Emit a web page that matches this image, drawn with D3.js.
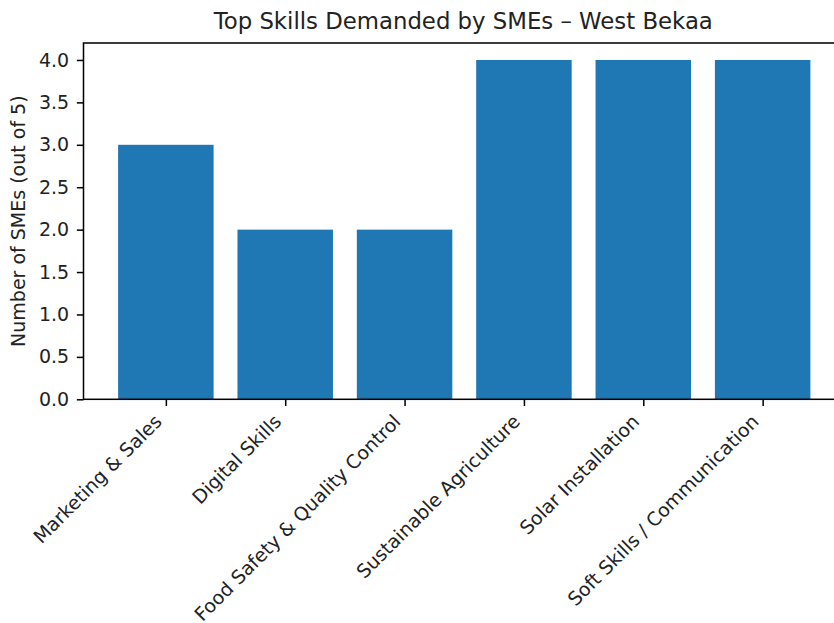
<!DOCTYPE html>
<html>
<head>
<meta charset="utf-8">
<script src="https://cdn.jsdelivr.net/npm/d3@7"></script>
<style>
  body { margin: 0; background: #fff; }
  svg { display: block; font-family: "DejaVu Sans", sans-serif; }
</style>
</head>
<body>
<div id="chart"></div>
<script>
// Chart data
const skills = ['Marketing & Sales', 'Digital Skills', 'Food Safety & Quality Control',
  'Sustainable Agriculture', 'Solar Installation', 'Soft Skills / Communication'];
const smeCounts = [3, 2, 2, 4, 4, 4];
const yTicks = [0, 0.5, 1, 1.5, 2, 2.5, 3, 3.5, 4];

const width = 834, height = 623;
const plot = { left: 83.5, right: 845, top: 43, bottom: 399.3 };
const fs = 19, pt = 1.9;   // px per point

const svg = d3.select('#chart').append('svg')
  .attr('width', width).attr('height', height);

// matplotlib style limits: bars of width 0.8, 5% margins
const x = d3.scaleLinear().domain([-0.69, skills.length - 1 + 0.69])
  .range([plot.left, plot.right]);
const y = d3.scaleLinear().domain([0, 4.2]).range([plot.bottom, plot.top]);

svg.append('g').selectAll('rect')
  .data(smeCounts)
  .enter().append('rect')
  .attr('x', (d, i) => x(i - 0.4))
  .attr('width', x(0.8) - x(0))
  .attr('y', d => y(d))
  .attr('height', d => y(0) - y(d))
  .attr('fill', '#1f77b4');

// y axis
const yAxis = svg.append('g')
  .attr('transform', `translate(${plot.left},0)`)
  .call(d3.axisLeft(y).tickValues(yTicks).tickFormat(d3.format('.1f'))
    .tickSize(3.5 * pt).tickPadding(3.5 * pt + 1));
yAxis.select('.domain').remove();
yAxis.selectAll('.tick line').attr('stroke', '#000').attr('stroke-width', 0.8 * pt);
yAxis.selectAll('.tick text').attr('font-size', fs).attr('fill', '#222')
  .attr('font-family', 'DejaVu Sans');

// x axis
const xAxis = svg.append('g')
  .attr('transform', `translate(0,${plot.bottom})`)
  .call(d3.axisBottom(x).tickValues(d3.range(skills.length)).tickFormat(i => skills[i])
    .tickSize(3.5 * pt).tickPadding(0));
xAxis.select('.domain').remove();
xAxis.selectAll('.tick line').attr('stroke', '#000').attr('stroke-width', 0.8 * pt);
// rotated labels: top-right corner of rotated box at tick
const asc = 0.76 * fs, desc = 0.24 * fs;
xAxis.selectAll('.tick text')
  .attr('font-size', fs).attr('fill', '#222').attr('font-family', 'DejaVu Sans')
  .attr('text-anchor', 'end')
  .attr('dy', null)
  .attr('y', null)
  .attr('transform', `translate(${-0.707 * desc},${7 * pt + 0.707 * asc}) rotate(-45)`);

// spines
const spines = svg.append('g').attr('stroke', '#000').attr('stroke-width', 0.8 * pt)
  .attr('fill', 'none');
spines.append('rect')
  .attr('x', plot.left).attr('y', plot.top)
  .attr('width', plot.right - plot.left).attr('height', plot.bottom - plot.top);

// labels
svg.append('text')
  .attr('x', (plot.left + plot.right) / 2 - 1).attr('y', 29)
  .attr('text-anchor', 'middle').attr('font-size', 1.2 * fs).attr('fill', '#222')
  .text('Top Skills Demanded by SMEs – West Bekaa');

svg.append('text')
  .attr('transform', `translate(25,${(plot.top + plot.bottom) / 2}) rotate(-90)`)
  .attr('text-anchor', 'middle').attr('font-size', fs).attr('fill', '#222')
  .text('Number of SMEs (out of 5)');
</script>
</body>
</html>
